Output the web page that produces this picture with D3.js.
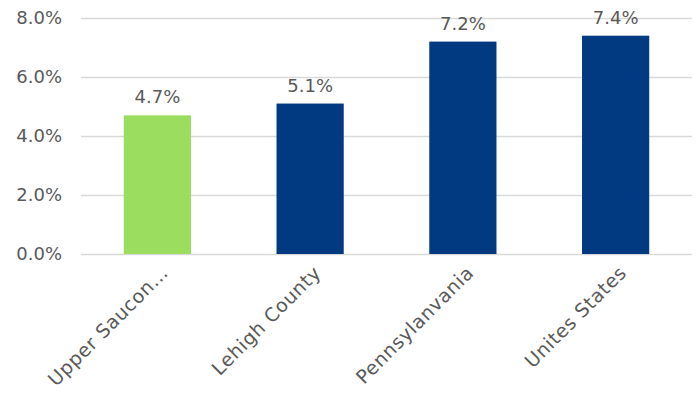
<!DOCTYPE html>
<html>
<head>
<meta charset="utf-8">
<script src="https://cdn.jsdelivr.net/npm/d3@7"></script>
<style>
  html, body { margin: 0; padding: 0; background: #fff; }
  svg text { font-family: "DejaVu Sans", sans-serif; fill: #595959; }
</style>
</head>
<body>
<svg id="chart" width="699" height="395"></svg>
<script>
// Unemployment rate by area
const categories = ["Upper Saucon…", "Lehigh County", "Pennsylanvania", "Unites States"];
const values = [4.7, 5.1, 7.2, 7.4];
const barColors = ["#9bdd5f", "#023a82", "#023a82", "#023a82"];
const yTicks = [0, 2, 4, 6, 8];

const svg = d3.select("#chart");
const margin = { left: 81, right: 7, top: 18, bottom: 141 };
const width = 699 - margin.left - margin.right;
const height = 395 - margin.top - margin.bottom;

const g = svg.append("g").attr("transform", `translate(${margin.left},${margin.top})`);

const x = d3.scaleBand().domain(categories).range([0, width])
  .paddingInner(0.56).paddingOuter(0.28);
const y = d3.scaleLinear().domain([0, 8]).range([height, 0]);

// Gridlines and y labels
const yAxis = d3.axisLeft(y).tickValues(yTicks)
  .tickFormat(d => d3.format(".1f")(d) + "%")
  .tickSize(-width).tickPadding(19);
const ya = g.append("g").call(yAxis);
ya.select(".domain").remove();
ya.selectAll(".tick line").attr("stroke", "#d9d9d9").attr("stroke-width", 1.3);
ya.selectAll(".tick text").attr("font-size", 18);

// Bars
g.selectAll("rect.bar").data(categories).enter().append("rect")
  .attr("class", "bar")
  .attr("x", d => x(d))
  .attr("width", x.bandwidth())
  .attr("y", (d, i) => y(values[i]))
  .attr("height", (d, i) => height - y(values[i]))
  .attr("fill", (d, i) => barColors[i]);

// Value labels
g.selectAll("text.val").data(categories).enter().append("text")
  .attr("class", "val")
  .attr("x", d => x(d) + x.bandwidth() / 2)
  .attr("y", (d, i) => y(values[i]) - 12)
  .attr("text-anchor", "middle")
  .attr("font-size", 18)
  .text((d, i) => d3.format(".1f")(values[i]) + "%");

// Category labels, rotated, ending just right of each bar centre
g.selectAll("text.cat").data(categories).enter().append("text")
  .attr("class", "cat")
  .attr("text-anchor", "end")
  .attr("font-size", 19)
  .attr("letter-spacing", "0.6px")
  .attr("transform", d => `translate(${x(d) + x.bandwidth() / 2 + 12},${height + 20}) rotate(-45)`)
  .text(d => d);
</script>
</body>
</html>
